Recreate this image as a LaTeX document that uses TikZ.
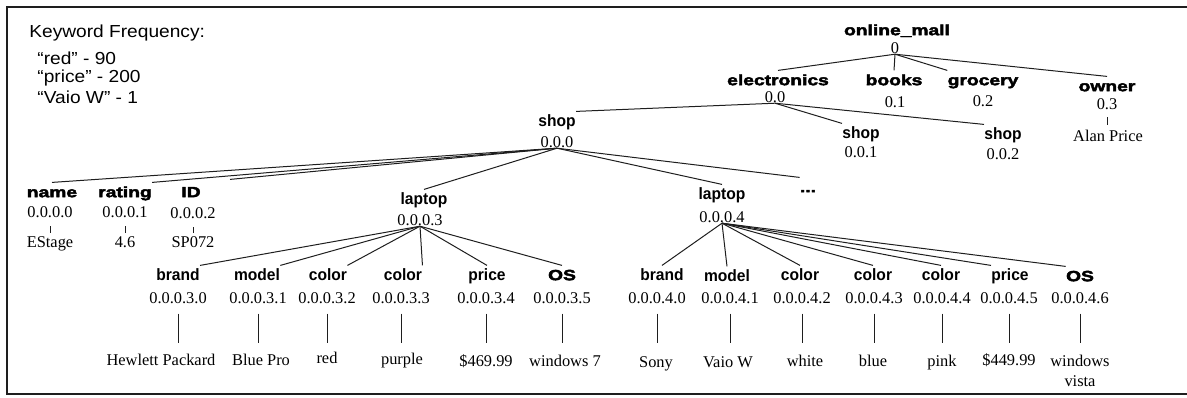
\documentclass[tikz,border=0pt]{standalone}
\usepackage{fontspec}
\setmainfont{Liberation Serif}
\newfontfamily\heavyfont{Liberation Sans Bold}[FakeStretch=1.3,FakeBold=3]
\newfontfamily\boldfont{Liberation Sans Bold}[FakeStretch=0.95]
\newfontfamily\plainfont{Liberation Sans}[FakeStretch=1.1]
\usepackage{tikz}
\usetikzlibrary{calc}
\definecolor{ink}{RGB}{30,30,30}

\begin{document}
\begin{tikzpicture}[
  x=0.5pt, y=-0.5pt,
  lbl/.style={inner sep=0pt, text height=0.72em, text depth=0.2em,
    font=\heavyfont\fontsize{7.4}{8}\selectfont},
  sub/.style={inner sep=0pt, text height=0.72em, text depth=0.2em,
    font=\boldfont\fontsize{8.2}{9}\selectfont},
  num/.style={inner sep=0pt, text height=0.68em, text depth=0pt,
    font=\fontsize{8.2}{10}\selectfont},
  val/.style={inner sep=0pt, text height=0.68em, text depth=0.2em,
    font=\fontsize{8.2}{10}\selectfont},
  twoline/.style={inner sep=0pt, align=center, anchor=north,
    font=\fontsize{8.2}{10}\selectfont},
  kw/.style={inner sep=0pt, anchor=west, font=\plainfont\fontsize{8.7}{10}\selectfont},
  edge/.style={line width=0.5pt, ink},
  bar/.style={edge, shorten <=4.7pt, shorten >=4.4pt},
  tick/.style={edge, shorten <=4pt, shorten >=0.6pt},
  frame/.style={line width=1.3pt, ink}
]
  \useasboundingbox (0,0) rectangle (1187,397);
  \draw[frame] (1187,7) -- (7,7) -- (7,394) -- (1187,394);

  % Keyword frequency
  \node[kw] (kwhead) at (29,33) {Keyword Frequency:};
  \node[kw] (kwred) at (37,58) {“red” - 90};
  \node[kw] (kwprice) at (37,78) {“price” - 200};
  \node[kw] (kwvaio) at (37,97) {“Vaio W” - 1};

  % Upper levels
  \node[lbl] (root) at (897,30) {online\_mall};
  \node[num] (root0) at (895,47) {0};
  \node[lbl] (elec) at (778,80) {electronics};
  \node[num] (elec0) at (775,96) {0.0};
  \node[lbl] (books) at (894,80) {books};
  \node[num] (books0) at (895,101) {0.1};
  \node[lbl] (groc) at (983,80) {grocery};
  \node[num] (groc0) at (983,100) {0.2};
  \node[lbl] (owner) at (1107,86) {owner};
  \node[num] (owner0) at (1107,103) {0.3};
  \node[val] (ownerv) at (1108,137) {Alan Price};

  \node[sub] (shopa) at (557,121) {shop};
  \node[num] (shopa0) at (557,141) {0.0.0};
  \node[sub] (shopb) at (861,133) {shop};
  \node[num] (shopb0) at (861,151) {0.0.1};
  \node[sub] (shopc) at (1003,134) {shop};
  \node[num] (shopc0) at (1003,153) {0.0.2};

  \draw[edge] (root0.south) -- (elec.north);
  \draw[edge] (root0.south) -- (books.north);
  \draw[edge] (root0.south) -- (groc.north west);
  \draw[edge] (root0.south) -- (owner.north);
  \draw[tick, shorten <=3.5pt, shorten >=1.5pt] (owner0.south) -- (owner0.south |- ownerv.north);
  \draw[edge] (elec0.south) -- (shopa.north east);
  \draw[edge] (elec0.south) -- (shopb.north west);
  \draw[edge] (elec0.south) -- (shopc.north west);

  % Shop attributes
  \node[lbl] (name) at (52,192) {name};
  \node[num] (name0) at (50,211) {0.0.0.0};
  \node[val] (namev) at (50,243) {EStage};
  \node[lbl] (rating) at (125,192) {rating};
  \node[num] (rating0) at (125,211) {0.0.0.1};
  \node[val] (ratingv) at (125,243) {4.6};
  \node[lbl] (id) at (191,192) {ID};
  \node[num] (id0) at (193,212) {0.0.0.2};
  \node[val] (idv) at (193,243) {SP072};
  \node[sub] (lapa) at (424,199) {laptop};
  \node[num] (lapa0) at (420,219) {0.0.0.3};
  \node[sub] (lapb) at (722,194) {laptop};
  \node[num] (lapb0) at (722,216) {0.0.0.4};
  \node[lbl] (dots) at (808,187) {...};

  \draw[edge] (shopa0.south) -- (name.north);
  \draw[edge] (shopa0.south) -- (rating.north east);
  \draw[edge] (shopa0.south) -- ([shift={(29,-3)}]id.north east);
  \draw[edge] (shopa0.south) -- (lapa.north);
  \draw[edge] (shopa0.south) -- (lapb.north);
  \draw[edge] (shopa0.south) -- (dots.north west);
  \draw[tick] (name0.south) -- (name0.south |- namev.north);
  \draw[tick] (rating0.south) -- (rating0.south |- ratingv.north);
  \draw[tick] (id0.south) -- (id0.south |- idv.north);

  % First laptop
  \node[sub] (brandA) at (178,275) {brand};
  \node[num] (brandA0) at (178,297) {0.0.0.3.0};
  \node[val] (brandAv) at (161,361) {Hewlett Packard};
  \node[sub] (modelA) at (257,275) {model};
  \node[num] (modelA0) at (258,297) {0.0.0.3.1};
  \node[val] (modelAv) at (261,361) {Blue Pro};
  \node[sub] (colorA) at (328,275) {color};
  \node[num] (colorA0) at (327,297) {0.0.0.3.2};
  \node[val] (colorAv) at (327,359) {red};
  \node[sub] (colorB) at (403,275) {color};
  \node[num] (colorB0) at (401,297) {0.0.0.3.3};
  \node[val] (colorBv) at (402,360) {purple};
  \node[sub] (priceA) at (487,275) {price};
  \node[num] (priceA0) at (486,297) {0.0.0.3.4};
  \node[val] (priceAv) at (486,362) {\$469.99};
  \node[lbl] (osA) at (562,275) {OS};
  \node[num] (osA0) at (562,297) {0.0.0.3.5};
  \node[val] (osAv) at (565,362) {windows 7};

  \draw[edge] (lapa0.south) -- (brandA.north east);
  \draw[edge] (lapa0.south) -- (modelA.north east);
  \draw[edge] (lapa0.south) -- (colorA.north east);
  \draw[edge] (lapa0.south) -- (colorB.north east);
  \draw[edge] (lapa0.south) -- (priceA.north);
  \draw[edge] (lapa0.south) -- (osA.north);
  \draw[bar] (brandA0.south) -- (brandA0.south |- brandAv.north);
  \draw[bar] (modelA0.south) -- (modelA0.south |- modelAv.north);
  \draw[bar] (colorA0.south) -- (colorA0.south |- brandAv.north);
  \draw[bar] (colorB0.south) -- (colorB0.south |- brandAv.north);
  \draw[bar] (priceA0.south) -- (priceA0.south |- brandAv.north);
  \draw[bar] (osA0.south) -- (osA0.south |- brandAv.north);

  % Second laptop
  \node[sub] (brandB) at (662,275) {brand};
  \node[num] (brandB0) at (657,297) {0.0.0.4.0};
  \node[val] (brandBv) at (656,363) {Sony};
  \node[sub] (modelB) at (727,276) {model};
  \node[num] (modelB0) at (730,297) {0.0.0.4.1};
  \node[val] (modelBv) at (728,363) {Vaio W};
  \node[sub] (colorC) at (800,275) {color};
  \node[num] (colorC0) at (802,297) {0.0.0.4.2};
  \node[val] (colorCv) at (805,362) {white};
  \node[sub] (colorD) at (873,275) {color};
  \node[num] (colorD0) at (874,297) {0.0.0.4.3};
  \node[val] (colorDv) at (873,362) {blue};
  \node[sub] (colorE) at (941,275) {color};
  \node[num] (colorE0) at (942,297) {0.0.0.4.4};
  \node[val] (colorEv) at (942,362) {pink};
  \node[sub] (priceB) at (1010,275) {price};
  \node[num] (priceB0) at (1009,297) {0.0.0.4.5};
  \node[val] (priceBv) at (1009,361) {\$449.99};
  \node[lbl] (osB) at (1080,276) {OS};
  \node[num] (osB0) at (1080,297) {0.0.0.4.6};
  \node[twoline] (osBv) at (1080,355) {windows\\vista};

  \draw[edge] (lapb0.south) -- (brandB.north);
  \draw[edge] (lapb0.south) -- (modelB.north);
  \draw[edge] (lapb0.south) -- (colorC.north);
  \draw[edge] (lapb0.south) -- (colorD.north);
  \draw[edge] (lapb0.south) -- (colorE.north);
  \draw[edge] (lapb0.south) -- (priceB.north west);
  \draw[edge] (lapb0.south) -- (osB.north west);
  \draw[bar] (brandB0.south) -- (brandB0.south |- brandAv.north);
  \draw[bar] (modelB0.south) -- (modelB0.south |- brandAv.north);
  \draw[bar] (colorC0.south) -- (colorC0.south |- brandAv.north);
  \draw[bar] (colorD0.south) -- (colorD0.south |- brandAv.north);
  \draw[bar] (colorE0.south) -- (colorE0.south |- brandAv.north);
  \draw[bar] (priceB0.south) -- (priceB0.south |- brandAv.north);
  \draw[bar] (osB0.south) -- (osB0.south |- brandAv.north);
\end{tikzpicture}
\end{document}
